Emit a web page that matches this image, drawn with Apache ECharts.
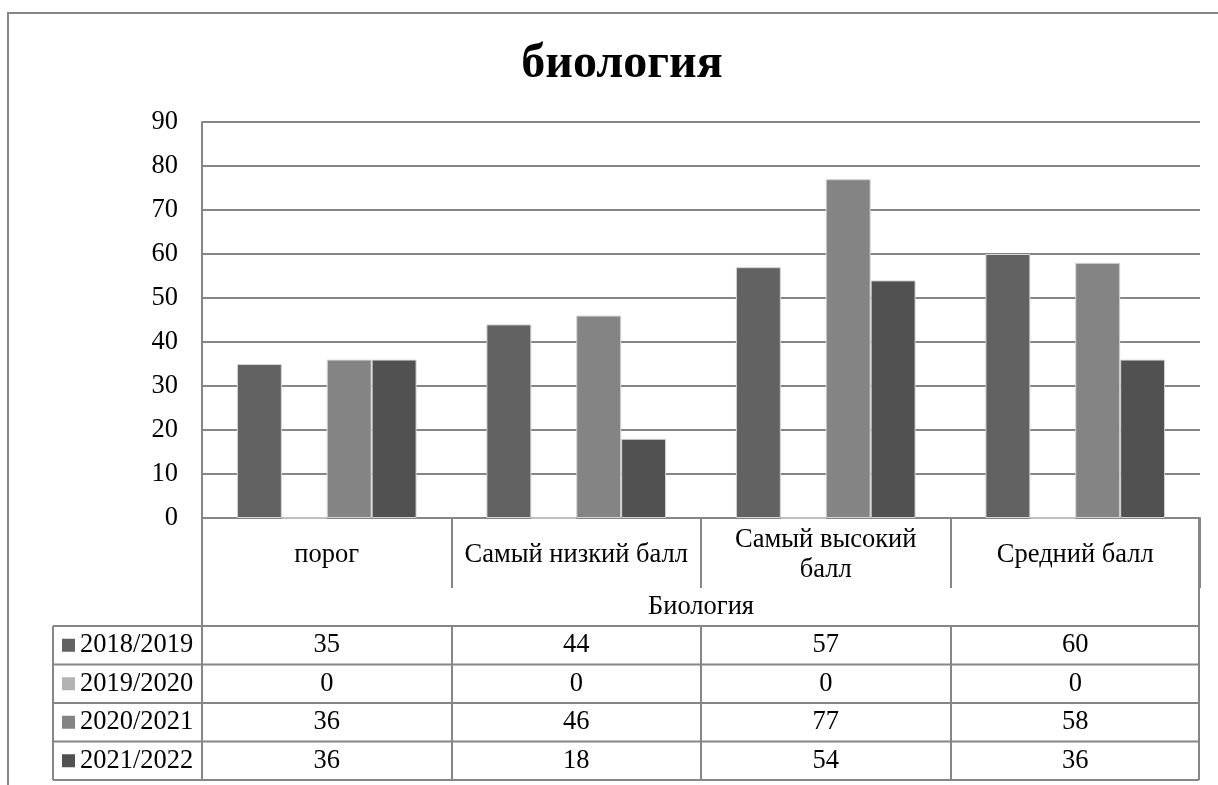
<!DOCTYPE html>
<html>
<head>
<meta charset="utf-8">
<script src="https://cdn.jsdelivr.net/npm/echarts@6/dist/echarts.min.js"></script>
<style>html,body{margin:0;padding:0;background:#fff;}#chart{width:1218px;height:785px;}</style>
</head>
<body>
<div id="chart"></div>
<script>
const titleText = 'биология';
const groupLabel = 'Биология';
const categories = ['порог', 'Самый низкий балл', 'Самый высокий балл', 'Средний балл'];
const seriesNames = ['2018/2019', '2019/2020', '2020/2021', '2021/2022'];
const values2018 = [35, 44, 57, 60];
const values2019 = [0, 0, 0, 0];
const values2020 = [36, 46, 77, 58];
const values2021 = [36, 18, 54, 36];
const yTicks = [0, 10, 20, 30, 40, 50, 60, 70, 80, 90];
const colors = ['#626262', '#b3b3b3', '#848484', '#515151'];
const allValues = [values2018, values2019, values2020, values2021];

const FONT = "'Liberation Serif', 'Times New Roman', serif";
const FS = 26.5;
const LINE = '#868686';

const measureCtx = document.createElement('canvas').getContext('2d');
measureCtx.font = FS + 'px ' + FONT;
function wrapLabel(text, maxW) {
  const words = text.split(' ');
  const lines = [];
  let cur = '';
  words.forEach(w => {
    const t = cur ? cur + ' ' + w : w;
    if (cur && measureCtx.measureText(t).width > maxW) { lines.push(cur); cur = w; }
    else cur = t;
  });
  if (cur) lines.push(cur);
  return lines.join('\n');
}

const chart = echarts.init(document.getElementById('chart'), null, {renderer: 'canvas'});

const option = {
  animation: false,
  backgroundColor: '#ffffff',
  title: {
    text: titleText,
    left: 617,
    textAlign: 'center',
    top: 36,
    textStyle: {fontFamily: FONT, fontSize: 48, fontWeight: 'bold', color: '#000'}
  },
  grid: {left: 202, top: 122, right: 18, bottom: 267, containLabel: false},
  xAxis: {
    type: 'category',
    data: categories,
    axisLine: {show: true, lineStyle: {color: LINE, width: 2}},
    axisTick: {show: true, length: 70, lineStyle: {color: LINE, width: 2}},
    axisLabel: {
      show: true, interval: 0, margin: 37, verticalAlign: 'middle', align: 'center',
      lineHeight: 30, overflow: 'none',
      formatter: v => wrapLabel(v, 238),
      fontFamily: FONT, fontSize: FS, color: '#000'
    },
    splitLine: {show: false}
  },
  yAxis: {
    type: 'value', min: yTicks[0], max: yTicks[yTicks.length - 1], interval: 10,
    axisLine: {show: true, lineStyle: {color: LINE, width: 2}},
    axisTick: {show: false},
    axisLabel: {margin: 24, fontFamily: FONT, fontSize: FS, color: '#000'},
    splitLine: {show: true, lineStyle: {color: LINE, width: 2}}
  },
  series: seriesNames.map((name, i) => ({
    name: name,
    type: 'bar',
    data: allValues[i],
    barGap: '0%',
    barCategoryGap: '28%',
    itemStyle: {color: colors[i], borderColor: '#d4d4d4', borderWidth: 1}
  }))
};
chart.setOption(option);

function buildTable() {
  const left = 202, right = 1200, tableLeft = 53, xAxisY = 518;
  const rowTop = 626, rowH = 38.5;
  const nRows = seriesNames.length;
  const bottom = rowTop + rowH * nRows;
  const els = [];
  const ls = {stroke: LINE, lineWidth: 2};
  els.push({type: 'rect', shape: {x: 8, y: 13, width: 1240, height: 800}, style: {fill: null, stroke: LINE, lineWidth: 2}, z: 10});
  els.push({type: 'line', shape: {x1: left, y1: xAxisY, x2: left, y2: bottom}, style: ls, z: 10});
  els.push({type: 'line', shape: {x1: right - 1, y1: xAxisY, x2: right - 1, y2: bottom}, style: ls, z: 10});
  els.push({type: 'line', shape: {x1: tableLeft, y1: rowTop, x2: tableLeft, y2: bottom}, style: ls, z: 10});
  for (let r = 0; r <= nRows; r++) {
    const y = rowTop + rowH * r;
    els.push({type: 'line', shape: {x1: tableLeft, y1: y, x2: right - 1, y2: y}, style: ls, z: 10});
  }
  const centers = categories.map((c, i) => chart.convertToPixel({xAxisIndex: 0}, i));
  const step = centers.length > 1 ? centers[1] - centers[0] : (right - left);
  for (let i = 1; i < categories.length; i++) {
    const x = Math.round(centers[i] - step / 2);
    els.push({type: 'line', shape: {x1: x, y1: rowTop, x2: x, y2: bottom}, style: ls, z: 10});
  }
  els.push({type: 'text', x: (left + right) / 2, y: 607, style: {text: groupLabel, font: FS + 'px ' + FONT, fill: '#000', align: 'center', verticalAlign: 'middle'}, z: 11});
  for (let r = 0; r < nRows; r++) {
    const cy = rowTop + rowH * r + rowH / 2;
    els.push({type: 'rect', shape: {x: 62, y: cy - 6.5, width: 13, height: 13}, style: {fill: colors[r]}, z: 11});
    els.push({type: 'text', x: 80, y: cy, style: {text: seriesNames[r], font: FS + 'px ' + FONT, fill: '#000', align: 'left', verticalAlign: 'middle'}, z: 11});
    for (let c = 0; c < categories.length; c++) {
      els.push({type: 'text', x: centers[c], y: cy, style: {text: String(allValues[r][c]), font: FS + 'px ' + FONT, fill: '#000', align: 'center', verticalAlign: 'middle'}, z: 11});
    }
  }
  chart.setOption({graphic: {elements: els}});
}
buildTable();
</script>
</body>
</html>
